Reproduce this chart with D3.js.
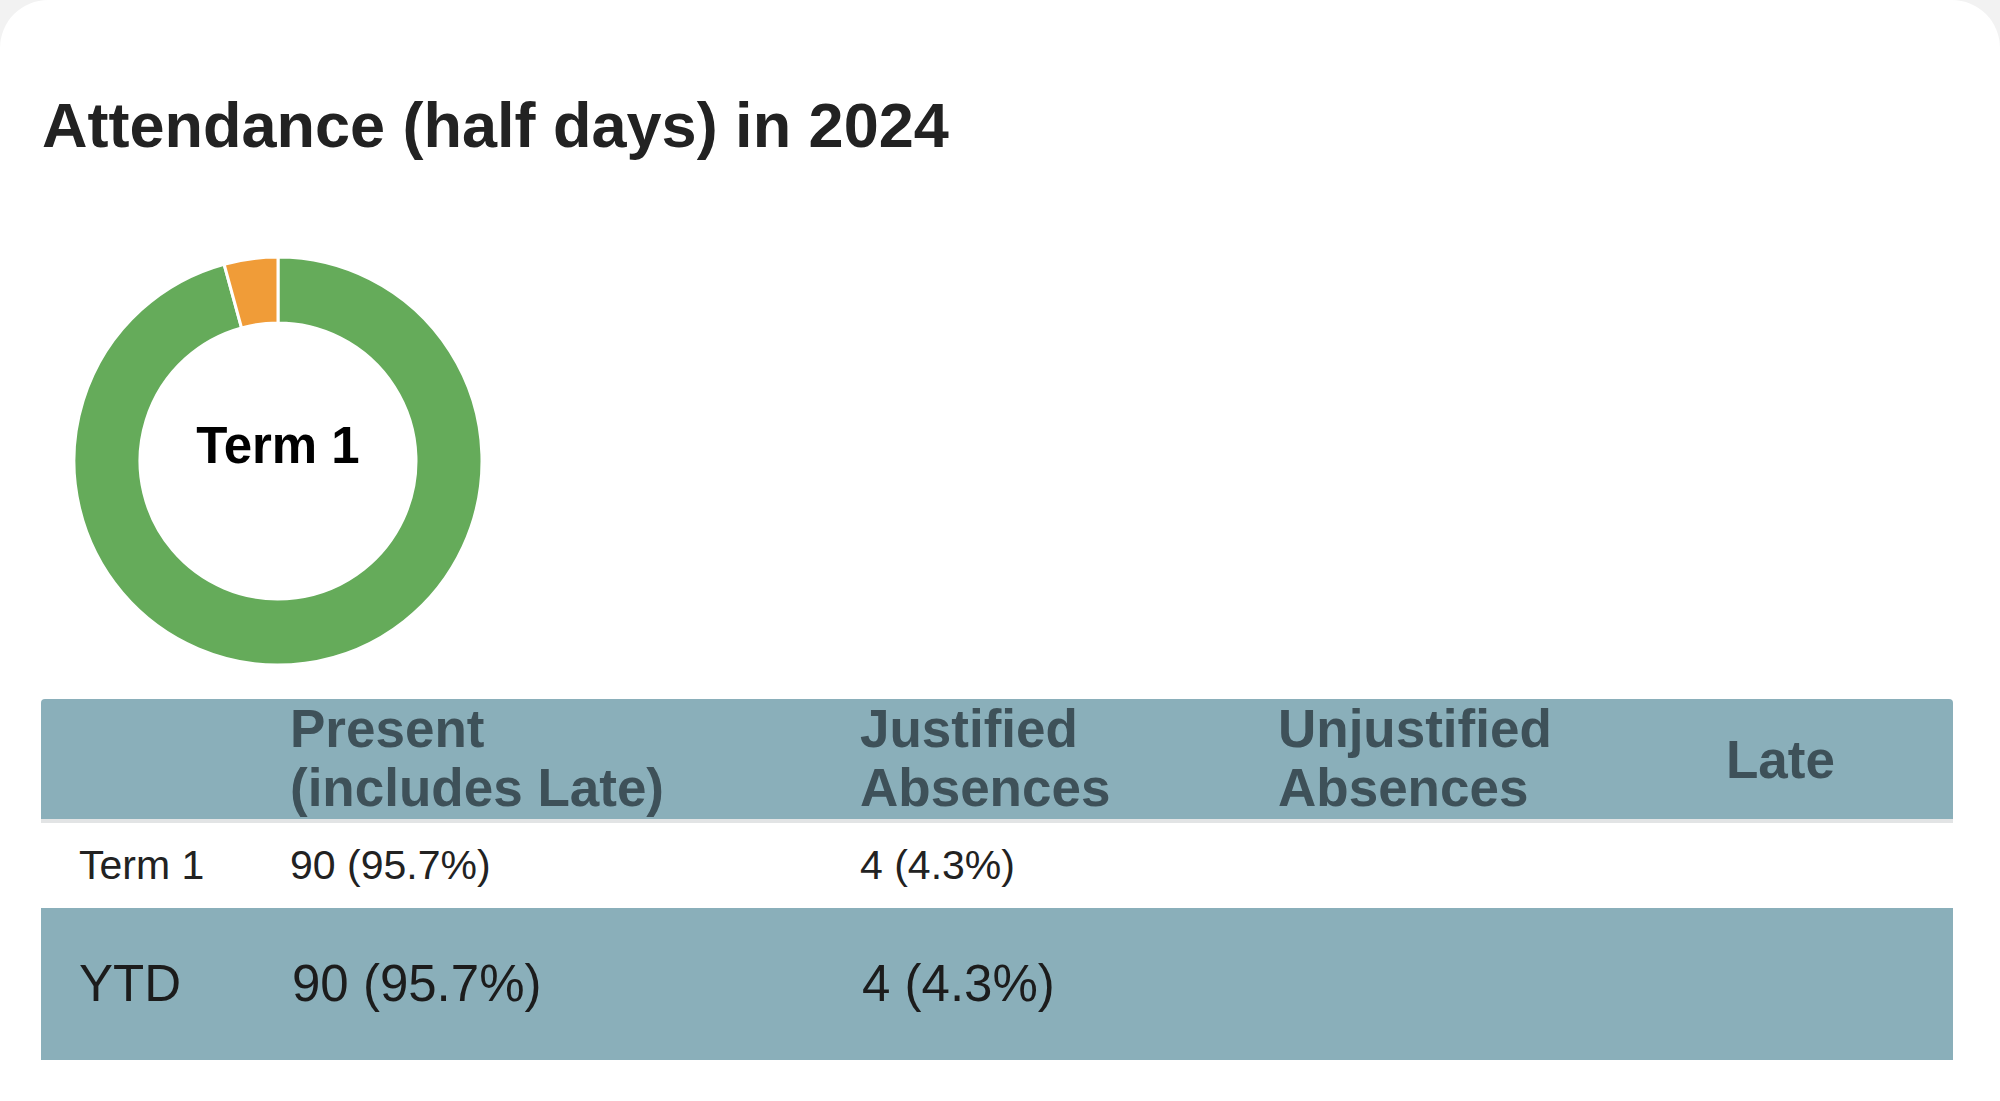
<!DOCTYPE html>
<html>
<head>
<meta charset="utf-8">
<script src="https://cdn.jsdelivr.net/npm/d3@7"></script>
<style>
  body { margin: 0; background: #f2f2f2; font-family: "Liberation Sans", Arial, sans-serif; }
  svg { display: block; }
</style>
</head>
<body>
<svg id="chart" width="2000" height="1101"></svg>
<script>
// data
var title = "Attendance (half days) in 2024";
var categories = ["Present", "Justified Absences", "Unjustified Absences", "Late"];
var term1Values = [90, 4, 0, 0];
var colors = ["#65ab5a", "#f09c38", "#d9534f", "#5bc0de"];
var headerLines = [["Present", "(includes Late)"], ["Justified", "Absences"], ["Unjustified", "Absences"], ["Late"]];
var rowLabels = ["Term 1", "YTD"];
var term1Cells = ["90 (95.7%)", "4 (4.3%)", "", ""];
var ytdCells = ["90 (95.7%)", "4 (4.3%)", "", ""];

var svg = d3.select("#chart");

// white card
svg.append("rect")
  .attr("x", 0).attr("y", 0)
  .attr("width", 2000).attr("height", 1200)
  .attr("rx", 48)
  .attr("fill", "#fff");

svg.append("text")
  .attr("x", 42).attr("y", 147)
  .attr("font-size", 63)
  .attr("font-weight", "bold")
  .attr("fill", "#222")
  .text(title);

// donut
var pie = d3.pie().sort(null).value(function(d) { return d; });
var arc = d3.arc().innerRadius(138).outerRadius(204);

var donut = svg.append("g").attr("transform", "translate(278,461)");
donut.selectAll("path")
  .data(pie(term1Values))
  .enter().append("path")
  .attr("d", arc)
  .attr("fill", function(d, i) { return colors[i]; })
  .attr("stroke", "#fff")
  .attr("stroke-width", function(d) { return d.value > 0 ? 3 : 0; });

donut.append("text")
  .attr("text-anchor", "middle")
  .attr("y", 2)
  .attr("font-size", 51)
  .attr("font-weight", "bold")
  .attr("fill", "#000")
  .text("Term 1");

// table
var colX = d3.scaleOrdinal().domain(categories).range([290, 860, 1278, 1726]);
var tableLeft = 41, tableRight = 1953;

svg.append("path")
  .attr("d", "M" + tableLeft + ",819V703q0,-4 4,-4H" + (tableRight - 4) + "q4,0 4,4V819Z")
  .attr("fill", "#8aafba");
svg.append("rect")
  .attr("x", tableLeft).attr("y", 819)
  .attr("width", tableRight - tableLeft).attr("height", 4)
  .attr("fill", "#e2e4e5");

var head = svg.append("g")
  .attr("font-size", 53)
  .attr("font-weight", "bold")
  .attr("fill", "#3e5159");

categories.forEach(function(c, i) {
  var lines = headerLines[i];
  var t = head.append("text").attr("x", colX(c));
  if (lines.length === 1) {
    t.attr("y", 778).text(lines[0]);
  } else {
    lines.forEach(function(l, j) {
      t.append("tspan").attr("x", colX(c)).attr("y", 747 + j * 59).text(l);
    });
  }
});

// Term 1 row
var r1 = svg.append("g").attr("font-size", 41).attr("fill", "#222");
r1.append("text").attr("x", 79).attr("y", 879).text(rowLabels[0]);
categories.forEach(function(c, i) {
  r1.append("text").attr("x", colX(c)).attr("y", 879).text(term1Cells[i]);
});

// YTD row
svg.append("rect")
  .attr("x", tableLeft).attr("y", 908)
  .attr("width", tableRight - tableLeft).attr("height", 152)
  .attr("fill", "#8aafba");
var r2 = svg.append("g").attr("font-size", 51).attr("fill", "#1c1c1c");
r2.append("text").attr("x", 79).attr("y", 1001).text(rowLabels[1]);
categories.forEach(function(c, i) {
  r2.append("text").attr("x", colX(c) + 2).attr("y", 1001).text(ytdCells[i]);
});
</script>
</body>
</html>
